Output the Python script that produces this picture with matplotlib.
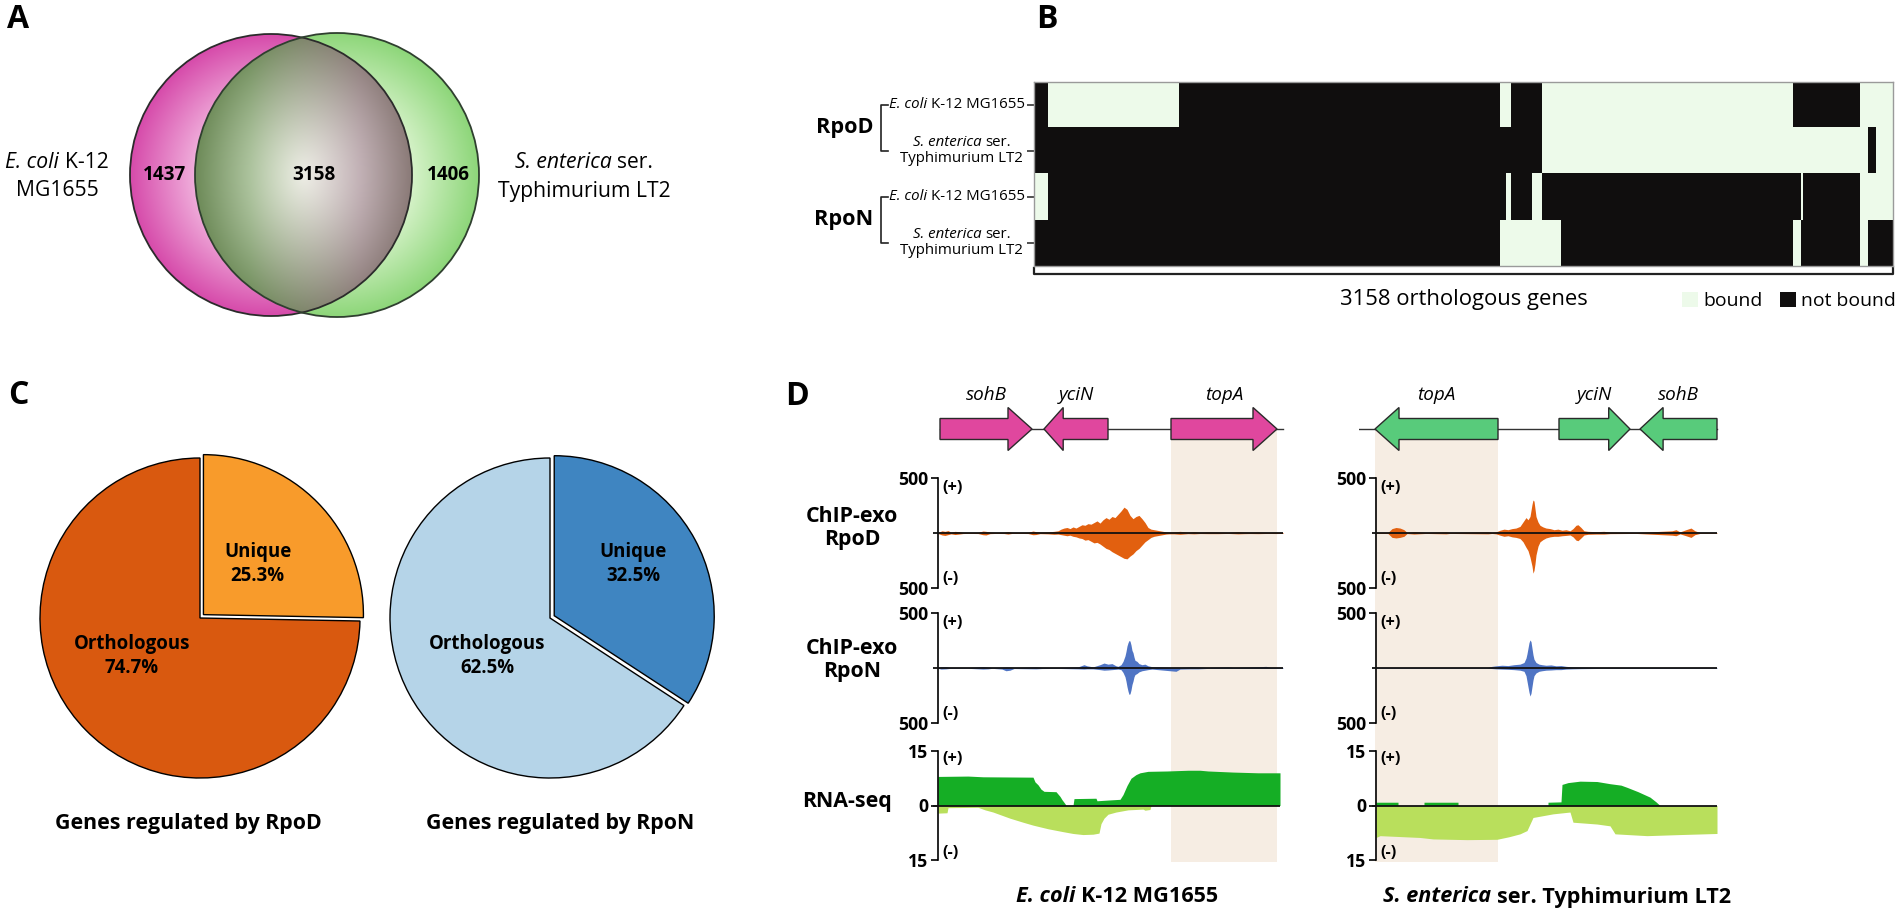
import numpy as np
import matplotlib
matplotlib.use("Agg")
import matplotlib.pyplot as plt
from matplotlib.colors import to_rgb, ListedColormap
from matplotlib.patches import Circle, Polygon, Patch
from matplotlib.transforms import blended_transform_factory as blend_tf

plt.rcParams['font.family'] = ['Open Sans', 'DejaVu Sans']

# ---------------- data ----------------
# A: orthologous genes between the two strains
venn_counts = [1437, 3158, 1406]          # E. coli only, shared, S. enterica only

# B: bound stretches (first gene, last gene) along the 3158 orthologous genes
n_orth = 3158
bound_rpod_eco = [(50, 533), (1710, 1750), (1864, 2787), (3033, 3158)]
bound_rpod_sen = [(1864, 3061), (3092, 3158)]
bound_rpon_eco = [(0, 50), (1735, 1750), (1827, 1864), (2816, 2823), (3033, 3158)]
bound_rpon_sen = [(1710, 1934), (2787, 2816), (3033, 3061)]

# C: share of regulated genes (%)
pie_labels = ["Unique", "Orthologous"]
rpod_share = [25.3, 74.7]
rpon_share = [32.5, 62.5]

# D: genes in the window (name, start, end, strand)
eco_genes = [("sohB", 2, 94, 1), ("yciN", 106, 170, -1), ("topA", 233, 339, 1)]
sen_genes = [("topA", -1, 122, -1), ("yciN", 183, 254, 1), ("sohB", 264, 341, -1)]

# ChIP-exo reads (position, + strand, - strand)
eco_rpod = [(0, 5, -5), (4, 20, -18), (7, 15, -22), (10, 22, -15), (13, 8, -8), (17, 15, -14),
            (21, 12, -10), (25, 5, -5), (30, 4, -4), (40, 5, -5), (45, 18, -16), (48, 15, -18),
            (52, 8, -6), (58, 4, -4), (66, 6, -5), (70, 12, -10), (74, 5, -4), (80, 4, -4),
            (90, 6, -5), (95, 18, -16), (98, 12, -14), (102, 8, -6), (110, 10, -8), (116, 15, -12),
            (120, 20, -10), (123, 35, -15), (126, 45, -20), (129, 50, -25), (132, 40, -20),
            (135, 55, -30), (138, 45, -35), (141, 60, -45), (144, 75, -50), (147, 70, -65),
            (150, 85, -60), (153, 80, -75), (156, 95, -90), (159, 110, -85), (162, 90, -100),
            (165, 120, -120), (168, 140, -140), (171, 125, -150), (174, 150, -170), (177, 140, -185),
            (180, 170, -200), (183, 200, -215), (186, 235, -230), (189, 215, -235), (192, 160, -210),
            (195, 130, -190), (198, 150, -160), (201, 160, -140), (204, 130, -110), (207, 95, -80),
            (210, 50, -60), (213, 35, -40), (216, 30, -30), (219, 25, -25), (222, 20, -20),
            (225, 15, -15), (228, 10, -10), (231, 8, -8), (236, 10, -8), (242, 15, -12),
            (250, 8, -6), (256, 12, -8), (262, 6, -5), (270, 10, -6), (280, 8, -6), (290, 5, -4),
            (300, 12, -8), (306, 8, -6), (312, 6, -5), (320, 8, -6), (330, 5, -4), (338, 6, -5),
            (345, 5, -4)]
eco_rpon = [(0, 3, -3), (3, 10, -10), (8, 12, -8), (12, 4, -4), (30, 3, -3), (45, 12, -10),
            (50, 8, -8), (54, 3, -3), (64, 5, -10), (68, 8, -25), (72, 6, -20), (76, 3, -5),
            (98, 10, -8), (104, 5, -5), (120, 4, -4), (140, 10, -8), (146, 30, -10), (149, 20, -8),
            (155, 10, -8), (162, 30, -15), (166, 45, -20), (170, 35, -18), (174, 40, -15),
            (178, 20, -12), (180, 15, -10), (183, 30, -15), (185, 60, -40), (187, 110, -80),
            (188, 150, -120), (189, 200, -170), (190, 230, -210), (191, 250, -240), (192, 245, -235),
            (193, 210, -200), (194, 160, -150), (195, 140, -120), (196, 100, -80), (197, 70, -60),
            (199, 60, -50), (201, 40, -35), (204, 30, -25), (207, 35, -20), (210, 20, -15),
            (214, 12, -10), (220, 10, -15), (232, 5, -25), (238, 4, -30), (242, 4, -10),
            (252, 10, -8), (260, 8, -8), (270, 4, -4), (290, 10, -4), (295, 4, -4), (322, 12, -4),
            (328, 15, -4), (333, 4, -4), (345, 3, -3)]
sen_rpod = [(0, 3, -3), (12, 5, -5), (16, 40, -40), (20, 50, -45), (24, 45, -40), (28, 30, -30),
            (31, 5, -5), (38, 12, -10), (42, 10, -8), (50, 4, -4), (70, 10, -8), (74, 4, -4),
            (112, 10, -8), (116, 4, -4), (120, 10, -8), (124, 25, -20), (128, 35, -30),
            (132, 30, -25), (136, 40, -35), (140, 45, -40), (144, 60, -50), (147, 100, -80),
            (150, 140, -130), (152, 120, -160), (154, 150, -220), (156, 260, -300), (157, 300, -365),
            (158, 290, -340), (159, 220, -280), (160, 150, -200), (162, 100, -120), (164, 70, -80),
            (167, 55, -60), (170, 45, -45), (174, 40, -35), (178, 30, -30), (182, 35, -30),
            (186, 25, -25), (190, 30, -22), (194, 20, -18), (197, 40, -35), (200, 70, -65),
            (202, 75, -70), (205, 50, -45), (208, 20, -18), (212, 15, -12), (220, 12, -10),
            (228, 15, -10), (234, 8, -6), (260, 4, -4), (296, 20, -20), (300, 30, -25),
            (304, 10, -8), (310, 30, -25), (315, 45, -40), (319, 20, -15), (324, 4, -4),
            (341, 3, -3)]
sen_rpon = [(0, 3, -3), (110, 3, -3), (112, 5, -3), (116, 15, -5), (120, 20, -8), (126, 25, -10),
            (132, 22, -12), (138, 30, -15), (144, 35, -20), (148, 50, -30), (150, 90, -70),
            (151, 130, -120), (152, 180, -170), (153, 230, -220), (154, 255, -255), (155, 240, -230),
            (156, 180, -170), (157, 120, -110), (158, 80, -70), (160, 50, -45), (163, 35, -30),
            (166, 30, -25), (170, 25, -20), (175, 28, -18), (180, 20, -15), (185, 22, -15),
            (190, 15, -10), (196, 10, -8), (205, 8, -6), (215, 6, -5), (225, 5, -4), (341, 3, -3)]

# RNA-seq coverage (position, value)
eco_rna_fwd = [(0, 8.0), (30, 8.1), (45, 7.9), (95, 7.8), (97, 6.5), (100, 5.7), (103, 4.5),
               (106, 3.9), (118, 3.8), (122, 2.5), (124, 1.6), (127, 0.5), (128, 0.0), (135, 0.0),
               (136, 1.9), (158, 2.0), (159, 1.3), (170, 1.5), (182, 1.7), (185, 3.0), (189, 5.5),
               (193, 7.5), (198, 8.5), (202, 9.0), (210, 9.4), (229, 9.5), (250, 9.7), (262, 9.7),
               (270, 9.5), (295, 9.2), (320, 9.0), (342, 9.0), (342, 0.0)]
eco_rna_rev = [(0, -2.1), (9, -2.0), (10, -0.6), (40, -0.5), (47, -1.2), (55, -1.8), (62, -2.5),
               (72, -3.5), (85, -4.6), (95, -5.4), (110, -6.4), (125, -7.2), (135, -7.7),
               (145, -8.0), (155, -7.9), (161, -7.6), (163, -5.0), (166, -3.5), (170, -2.4),
               (178, -1.8), (190, -1.2), (205, -1.0), (207, -1.3), (212, -1.1), (213, 0.0),
               (342, 0.0)]
sen_rna_fwd = [(0, 0.9), (22, 0.9), (22, 0.0), (48, 0.0), (48, 0.9), (82, 0.9), (82, 0.0),
               (172, 0.0), (172, 0.9), (185, 1.0), (186, 5.8), (192, 6.3), (204, 6.7), (221, 6.6),
               (234, 6.0), (245, 5.6), (251, 5.0), (262, 3.8), (274, 2.3), (280, 1.0), (284, 0.0),
               (341, 0.0)]
sen_rna_rev = [(0, -8.8), (4, -8.3), (44, -8.8), (57, -9.2), (91, -9.4), (121, -9.3),
               (133, -8.6), (144, -7.8), (151, -6.9), (157, -3.3), (177, -2.3), (194, -1.8),
               (197, -4.6), (221, -5.1), (234, -5.6), (239, -7.8), (271, -8.3), (304, -8.0),
               (341, -7.7)]

# ---------------- figure ----------------
W, H = 1901, 916
fig = plt.figure(figsize=(W / 100, H / 100), dpi=100)
renderer = fig.canvas.get_renderer()


def fx(x):
    return x / W


def fy(y):
    return 1 - y / H


def box(l, t, w, h):
    return fig.add_axes([l / W, 1 - (t + h) / H, w / W, h / H])


def text_width(s, **kw):
    t = fig.text(0, 0, s, **kw)
    w = t.get_window_extent(renderer).width
    t.remove()
    return w


def fit(s, target, **kw):
    # font size that gives the string the width measured on the original
    return 12 * target / text_width(s, fontsize=12, **kw)


def rich(x, y, parts, size=12, weight="normal", ha="center", width=None):
    def layout(sz):
        kw = dict(fontsize=sz, fontweight=weight)
        gap = text_width("x x", **kw) - text_width("xx", **kw)
        ws = [text_width(s, fontstyle=st, **kw) for s, st in parts]
        return kw, gap, ws, sum(ws) + gap * (len(parts) - 1)
    kw, gap, ws, total = layout(size)
    if width is not None:
        kw, gap, ws, total = layout(size * width / total)
    x0 = {"center": x - total / 2, "right": x - total, "left": x}[ha]
    for (s, st), w in zip(parts, ws):
        fig.text(fx(x0), fy(y), s, fontstyle=st, va="center", ha="left", **kw)
        x0 += w + gap
    return kw["fontsize"]


def ftext(x, y, s, **kw):
    kw.setdefault("va", "center")
    kw.setdefault("ha", "center")
    return fig.text(fx(x), fy(y), s, **kw)


def panel_label(x, y, s):
    fig.text(fx(x), fy(y), s, fontsize=23, fontweight="bold", va="baseline", ha="left")


# ---------------- A: Venn ----------------
ax_v = box(0, 0, 700, 340)
ax_v.set_xlim(0, 700)
ax_v.set_ylim(340, 0)
ax_v.axis("off")

yy, xx = np.mgrid[0:340, 0:700] + 0.5
cl, rl = (271, 175), 141
cr, rr = (337, 175), 142
dl = np.hypot(xx - cl[0], yy - cl[1]) / rl
dr = np.hypot(xx - cr[0], yy - cr[1]) / rr
inl, inr = dl <= 1, dr <= 1


def mix(a, b, t):
    a = np.array(to_rgb(a)) if isinstance(a, str) else a
    b = np.array(to_rgb(b)) if isinstance(b, str) else b
    return a + (b - a) * np.clip(t, 0, 1)[..., None]


left_col = mix("#f5c2e5", "#d64aaa", (dl - 0.45) / 0.55)
right_col = mix("#e2f7d6", "#8dd679", (dr - 0.45) / 0.55)
h = (xx - 250) / 110
glow = mix("#e3f4d9", "#f7e5f1", h)
edge = mix("#6e8b59", "#8a7a77", h)
d_over = np.hypot((xx - 304) / 108, (yy - 175) / 141)
over_col = mix(glow, edge, d_over ** 1.1)

img = np.zeros((340, 700, 4))
img[inl & ~inr, :3] = left_col[inl & ~inr]
img[inr & ~inl, :3] = right_col[inr & ~inl]
img[inl & inr, :3] = over_col[inl & inr]
img[..., 3] = (inl | inr).astype(float)
ax_v.imshow(img, extent=(0, 700, 340, 0), interpolation="bilinear", aspect="auto")
ax_v.add_patch(Circle(cl, rl, fill=False, ec="#2b2b2b", lw=1.3))
ax_v.add_patch(Circle(cr, rr, fill=False, ec="#2f3f2f", lw=1.3))
num_fs = fit("1406", 43, fontweight="bold")
for xpos, n in zip([164, 314, 448], venn_counts):
    ax_v.text(xpos, 175, str(n), fontsize=num_fs, fontweight="bold", ha="center", va="center")

venn_fs = fit("Typhimurium LT2", 172)
rich(57, 163, [("E. coli", "italic"), ("K-12", "normal")], venn_fs)
ftext(57, 191, "MG1655", fontsize=venn_fs)
rich(584, 163, [("S. enterica", "italic"), ("ser.", "normal")], venn_fs)
ftext(584, 191, "Typhimurium LT2", fontsize=venn_fs)
panel_label(7, 28, "A")

# ---------------- B: binding heatmap ----------------
bound_rows = [bound_rpod_eco, bound_rpod_sen, bound_rpon_eco, bound_rpon_sen]
bound = np.zeros((4, n_orth))
for i, segs in enumerate(bound_rows):
    for s, e in segs:
        bound[i, s:e] = 1

hm_l, hm_t, hm_w, hm_h = 1034, 82, 859, 184
ax_hm = box(hm_l, hm_t, hm_w, hm_h)
ax_hm.imshow(bound, aspect="auto", cmap=ListedColormap(["#100e0e", "#edfaea"]),
             extent=(0, n_orth, 4, 0), interpolation="nearest", vmin=0, vmax=1)
ax_hm.set_xlim(0, n_orth)
ax_hm.set_ylim(4, 0)
ax_hm.set_xticks([])
ax_hm.set_yticks([0.5, 1.5, 2.5, 3.5])
ax_hm.set_yticklabels([])
ax_hm.tick_params(axis="y", length=5, width=1.1, color="#222222")
for sp in ax_hm.spines.values():
    sp.set_color("#9a9a9a")
    sp.set_linewidth(1)

row_h = hm_h / 4
hm_fs = None
for i in range(4):
    yc = hm_t + row_h * (i + 0.5)
    if i % 2 == 0:
        hm_fs = rich(1025, yc - 1, [("E. coli", "italic"), ("K-12 MG1655", "normal")],
                     ha="right", width=136)
    else:
        w2 = text_width("Typhimurium LT2", fontsize=hm_fs)
        c = 1023 - w2 / 2
        rich(c, yc - 9, [("S. enterica", "italic"), ("ser.", "normal")], hm_fs)
        ftext(c, yc + 7, "Typhimurium LT2", fontsize=hm_fs)

rpo_fs = fit("RpoD", 57, fontweight="bold")
tr = blend_tf(ax_hm.transAxes, ax_hm.transData)
bx0, bx1 = (881 - hm_l) / hm_w, (888 - hm_l) / hm_w
for k, name in enumerate(["RpoD", "RpoN"]):
    y0, y1 = 2 * k + 0.5, 2 * k + 1.5
    ax_hm.plot([bx1, bx0, bx0, bx1], [y0, y0, y1, y1], transform=tr, clip_on=False,
               color="#222222", lw=1.2)
    ftext(873, hm_t + row_h * (2 * k + 1), name, fontsize=rpo_fs, fontweight="bold", ha="right")

tr2 = blend_tf(ax_hm.transData, ax_hm.transAxes)
yb0, yb1 = -2 / hm_h, -8 / hm_h
ax_hm.plot([0, 0, n_orth, n_orth], [yb0, yb1, yb1, yb0], transform=tr2, clip_on=False,
           color="#222222", lw=1.6)
ftext(hm_l + hm_w / 2, 300, "3158 orthologous genes", fontsize=fit("3158 orthologous genes", 246))
leg_fs = fit("bound", 59)
em = leg_fs * 100 / 72
fig.legend(handles=[Patch(fc="#edfaea", ec="none", label="bound"),
                    Patch(fc="#100e0e", ec="none", label="not bound")],
           loc="center left", bbox_to_anchor=(fx(1682), fy(301)), ncol=2, frameon=False,
           fontsize=leg_fs, handlelength=16 / em, handleheight=16 / em, handletextpad=5 / em,
           columnspacing=18 / em, borderpad=0, borderaxespad=0)
panel_label(1036, 28, "B")

# ---------------- C: pies ----------------
lab_fs = fit("Orthologous", 116, fontweight="bold")
title_fs = fit("Genes regulated by RpoD", 267, fontweight="bold")
pie_specs = [(200, rpod_share, ["#f89b2b", "#d9590f"], "Genes regulated by RpoD", 188,
              [(0.36, 0.34), (-0.425, -0.24)]),
             (550, rpon_share, ["#3f85c1", "#b5d4e8"], "Genes regulated by RpoN", 560,
              [(0.52, 0.34), (-0.39, -0.24)])]
for cx, share, cols, title, tx, lab_xy in pie_specs:
    ax_p = box(cx - 168, 618 - 168, 336, 336)
    ax_p.pie(share, colors=cols, startangle=90, counterclock=False, explode=[0.03, 0],
             wedgeprops=dict(edgecolor="black", linewidth=1))
    ax_p.set_xlim(-1.05, 1.05)
    ax_p.set_ylim(-1.05, 1.05)
    for (lx, ly), lab, v in zip(lab_xy, pie_labels, share):
        for txt, dy in [(lab, 12), (f"{v}%", -12)]:
            ax_p.annotate(txt, xy=(lx, ly), xytext=(0, dy), textcoords="offset pixels",
                          ha="center", va="center", fontsize=lab_fs, fontweight="bold")
    ftext(tx, 823, title, fontsize=title_fs, fontweight="bold")
panel_label(8, 404, "C")

# ---------------- D: locus tracks ----------------
shade = "#f6ede3"
tracks = [("rpod", 478, 110, "#e2600f", 500), ("rpon", 613, 110, "#4f74c4", 500),
          ("rna", 751, 109, None, 15)]
tick_fs = fit("500", 30, fontweight="bold")
sign_fs = fit("(+)", 20, fontweight="bold")
gene_fs = fit("sohB", 41, fontstyle="italic")


def draw_locus(x0, lim, base0, base1, line0, genes, gcol, chip, rna_f, rna_r, rna_end):
    wpx = lim[1] - lim[0]
    ax_s = box(x0, 429, wpx, 433)
    ax_s.set_xlim(lim)
    ax_s.axis("off")
    for name, s, e, strand in genes:
        if name == "topA":
            ax_s.axvspan(s, e, color=shade, lw=0)

    ax_g = box(x0, 383, wpx, 92)
    ax_g.set_xlim(lim)
    ax_g.set_ylim(-46, 46)
    ax_g.axis("off")
    ax_g.plot([line0, base1], [0, 0], color="#333333", lw=1)
    for name, s, e, strand in genes:
        hl = min(24, 0.3 * (e - s))
        bh, hh = 10.5, 21.5
        if strand > 0:
            pts = [(s, -bh), (e - hl, -bh), (e - hl, -hh), (e, 0), (e - hl, hh), (e - hl, bh), (s, bh)]
        else:
            pts = [(e, -bh), (s + hl, -bh), (s + hl, -hh), (s, 0), (s + hl, hh), (s + hl, bh), (e, bh)]
        ax_g.add_patch(Polygon(pts, closed=True, fc=gcol, ec="#2a2a2a", lw=1, zorder=3))
        ax_g.text((s + e) / 2, 34, name, fontsize=gene_fs, fontstyle="italic", ha="center", va="center")

    for (key, top, hgt, col, ymax) in tracks:
        ax = box(x0, top, wpx, hgt)
        ax.set_facecolor("none")
        ax.set_xlim(lim)
        ax.set_ylim(-ymax, ymax)
        if key == "rna":
            p, v = np.array(rna_f).T
            ax.fill_between(p, 0, v, color="#15ae25", lw=0)
            p, v = np.array(rna_r).T
            ax.fill_between(p, v, 0, color="#b9df5c", lw=0)
            ax.set_yticks([-15, 0, 15])
            ax.set_yticklabels(["15", "0", "15"])
            end = rna_end
        else:
            p, f, r = np.array(chip[key]).T
            ax.fill_between(p, r, f, color=col, lw=0)
            ax.set_yticks([-500, 500])
            ax.set_yticklabels(["500", "500"])
            end = base1
        ax.hlines(0, base0, end, color="#111111", lw=1.3, zorder=3)
        for side in ["top", "right", "bottom"]:
            ax.spines[side].set_visible(False)
        ax.spines["left"].set_position(("data", 0))
        ax.spines["left"].set_linewidth(1.2)
        ax.set_xticks([])
        ax.tick_params(axis="y", length=5, width=1.2, pad=2, labelsize=tick_fs)
        for lbl in ax.get_yticklabels():
            lbl.set_fontweight("bold")
        trk = blend_tf(ax.transData, ax.transAxes)
        off = 8 if key == "rna" else 10
        ax.annotate("(+)", xy=(0, 1), xycoords=trk, xytext=(4, -off), textcoords="offset pixels",
                    ha="left", va="center", fontsize=sign_fs, fontweight="bold")
        ax.annotate("(-)", xy=(0, 0), xycoords=trk, xytext=(4, off - 1), textcoords="offset pixels",
                    ha="left", va="center", fontsize=sign_fs, fontweight="bold")


draw_locus(933, (-5, 347), -5, 345, 2, eco_genes, "#e0479e",
           {"rpod": eco_rpod, "rpon": eco_rpon}, eco_rna_fwd, eco_rna_rev, 342)
draw_locus(1359, (-17, 345), -4, 341, -17, sen_genes, "#58cb7b",
           {"rpod": sen_rpod, "rpon": sen_rpon}, sen_rna_fwd, sen_rna_rev, 341)

chip_fs = fit("ChIP-exo", 92, fontweight="bold")
for txt, y in [("ChIP-exo", 516), ("RpoD", 539), ("ChIP-exo", 649), ("RpoN", 672), ("RNA-seq", 802)]:
    ftext(852 if txt != "RNA-seq" else 847, y, txt, fontsize=chip_fs, fontweight="bold")

bot_fs = rich(1117, 897, [("E. coli", "italic"), ("K-12 MG1655", "normal")], weight="bold", width=201)
rich(1557, 897, [("S. enterica", "italic"), ("ser. Typhimurium LT2", "normal")], bot_fs, weight="bold")
panel_label(785, 405, "D")

fig.savefig("out.png", dpi=100)
